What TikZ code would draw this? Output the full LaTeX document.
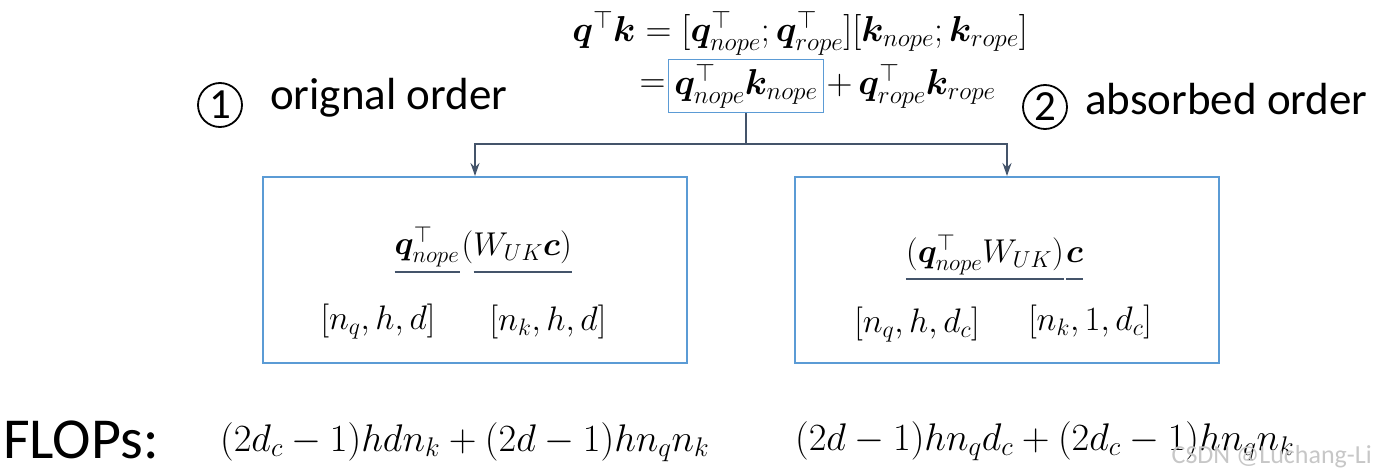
\RequirePackage{fix-cm}
\documentclass[tikz,border=0pt]{standalone}
\usepackage{amsmath,amssymb}
\usepackage{bm}
\usepackage[no-math]{fontspec}
\setmainfont{Carlito}
\usepackage{xcolor}
\definecolor{boxblue}{HTML}{5B9BD5}
\definecolor{lineslate}{HTML}{44546A}
\usetikzlibrary{arrows.meta,positioning}

\begin{document}
\begin{tikzpicture}[
  x=1pt, y=-1pt,
  eqn/.style={inner sep=0pt, font=\fontsize{36}{43}\selectfont},
  boxeq/.style={inner sep=0pt, font=\fontsize{33}{40}\selectfont},
  dims/.style={inner sep=0pt, font=\fontsize{34}{41}\selectfont},
  flops/.style={inner sep=0pt, font=\fontsize{38.5}{46}\selectfont, anchor=base west},
  tag/.style={inner sep=0pt, font=\fontsize{45}{54}\selectfont, anchor=base west},
  circ/.style={circle, draw, line width=1.8pt, minimum size=44pt, inner sep=0pt,
               font=\fontsize{43}{48}\selectfont},
  hi/.style={draw=boxblue, line width=1.6pt, inner xsep=6pt, inner ysep=4.5pt},
  panel/.style={draw=boxblue, line width=2pt, minimum width=424pt, minimum height=186pt},
  conn/.style={-{Stealth[length=13pt,width=9pt]}, line width=2pt, lineslate},
  ul/.style={line width=2pt, lineslate},
]
\useasboundingbox (0,0) rectangle (1377,476);

% ---- the score, split into its two halves
\node[eqn] (top) at (800,33)
  {$\bm q^{\top}\bm k = [\bm q^{\top}_{nope};\bm q^{\top}_{rope}][\bm k_{nope};\bm k_{rope}]$};
\node[eqn, hi] (qk) at (746,86) {$\bm q^{\top}_{nope}\bm k_{nope}$};
\node[eqn, left=2pt of qk] (eqs) {$=$};
\node[eqn, right=2pt of qk] (rest) {$+\,\bm q^{\top}_{rope}\bm k_{rope}$};

% ---- the two orders
\node[circ] (c1) at (220,105) {1};
\node[tag] (t1) at (270,110) {orignal order};
\node[circ] (c2) at (1045,107) {2};
\node[tag] (t2) at (1085,115) {absorbed order};

\node[panel] (orig) at (475,270) {};
\node[panel] (absb) at (1007,270) {};

\coordinate (split) at (746,144);
\draw[conn] (qk.south) -- (split) -| (orig.north);
\draw[conn] (split) -| (absb.north);

% ---- original order: q (W c)
\node[boxeq] (lq) at (427,247) {$\bm q^{\top}_{nope}$};
\node[boxeq, right=2pt of lq] (lw) {$(W_{UK}\bm c)$};
\draw[ul] (lq.west |- 0,272) -- (lq.east |- 0,272);
\draw[ul] ([xshift=12pt]lw.west |- 0,272) -- (lw.east |- 0,272);

% ---- absorbed order: (q W) c
\node[boxeq] (rq) at (985,255) {$(\bm q^{\top}_{nope}W_{UK})$};
\node[boxeq, right=2pt of rq] (rc) {$\bm c$};
\draw[ul] (rq.west |- 0,279) -- (rq.east |- 0,279);
\draw[ul] (rc.west |- 0,279) -- (rc.east |- 0,279);

% ---- operand shapes
\foreach \n/\x/\y/\t in {lda/378/322/{[n_q,h,d]}, ldb/548/322/{[n_k,h,d]},
                         rda/917/325/{[n_q,h,d_c]}, rdb/1090/322/{[n_k,1,d_c]}} {
  \node[dims] (\n) at (\x,\y) {$\t$};
}

% ---- cost of each order
\node[tag, font=\fontsize{58}{70}\selectfont] (fl) at (3,458) {FLOPs:};
\node[flops] (f1) at (220,451) {$(2d_c-1)hdn_k+(2d-1)hn_qn_k$};
\node[flops] (f2) at (795,450) {$(2d-1)hn_qd_c+(2d_c-1)hn_qn_k$};

\node[inner sep=0pt, anchor=base east, font=\fontsize{26}{30}\selectfont, text=black!22]
  (wm) at (1372,463) {CSDN @Luchang-Li};
\end{tikzpicture}
\end{document}
